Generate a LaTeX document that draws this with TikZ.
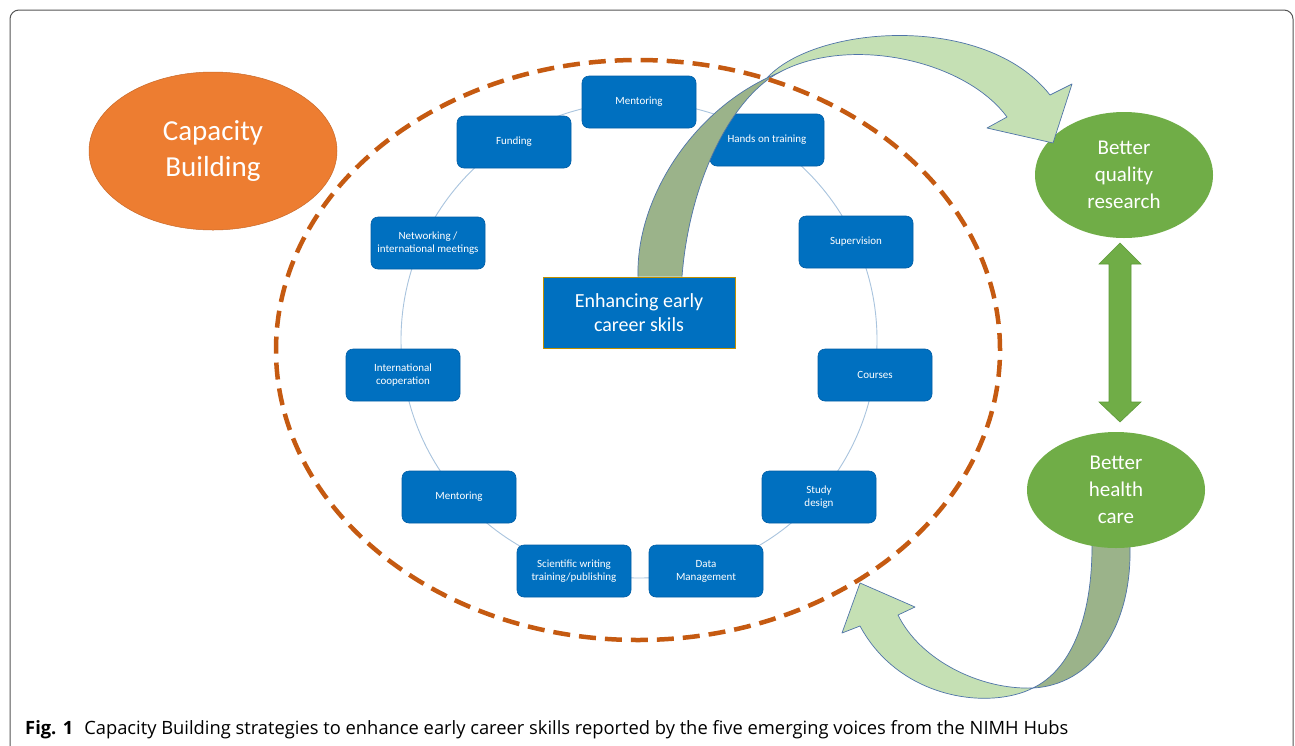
\documentclass[tikz,border=0pt]{standalone}
\usepackage{fontspec}
\usepackage{graphicx}
\setmainfont{Carlito}
\newfontfamily\capfont{Open Sans}
\usetikzlibrary{shapes.geometric}
\definecolor{boxblue}{HTML}{0070C0}
\definecolor{boxedge}{HTML}{005DA6}
\definecolor{orangefill}{HTML}{ED7D31}
\definecolor{dashorange}{HTML}{C55A11}
\definecolor{greenfill}{HTML}{70AD47}
\definecolor{greenedge}{HTML}{5E9A3A}
\definecolor{lightgreen}{HTML}{C5E0B4}
\definecolor{darkgreen}{HTML}{9BB38A}
\definecolor{arrowedge}{HTML}{4F74A8}
\definecolor{ringblue}{HTML}{A9C4DE}
\definecolor{centeredge}{HTML}{BF9000}
\definecolor{framegray}{HTML}{555555}
\begin{document}
\begin{tikzpicture}[x=1pt,y=-1pt,
  skillbox/.style={rectangle, rounded corners=7pt, fill=boxblue, draw=boxedge, line width=0.6pt,
    minimum width=114pt, minimum height=52pt, inner sep=2pt, text=white, align=center,
    font=\fontsize{11}{13}\selectfont},
  centerbox/.style={rectangle, fill=boxblue, draw=centeredge, line width=1pt,
    minimum width=192pt, minimum height=71pt, inner sep=2pt, text=white, align=center,
    font=\fontsize{20}{24}\selectfont},
  greenoval/.style={ellipse, fill=greenfill, draw=none, inner sep=0pt, text=white, align=center,
    font=\fontsize{21}{27}\selectfont},
  bigarrow/.style={draw=arrowedge, line width=0.7pt, line join=round},
  ring/.style={draw=ringblue, line width=0.9pt},
  dashring/.style={draw=dashorange, line width=4.5pt, dash pattern=on 17pt off 9pt}
]
\useasboundingbox (0,0) rectangle (1295,745);
\fill[white] (0,0) rectangle (1295,745);
% frame
\draw[framegray, line width=1pt, rounded corners=9pt] (10,770) -- (10,10) -- (1293,10) -- (1293,770);

% capacity building
\node[ellipse, fill=orangefill, draw=orangefill!85!black, line width=0.5pt, minimum width=248pt, minimum height=158pt,
  inner sep=0pt, text=white, align=center, font=\fontsize{29}{36}\selectfont] (cap) at (213,151) {Capacity\\Building};

% ring
\draw[ring] (639,340) circle (238pt);

% skill boxes
\node[skillbox] (m1) at (639,102) {Mentoring};
\node[skillbox] (hot) at (767,140) {Hands on training};
\node[skillbox] (sup) at (856,242) {Supervision};
\node[skillbox] (cou) at (875,375) {Courses};
\node[skillbox] (sd) at (819,497) {Study\\design};
\node[skillbox] (dm) at (706,571) {Data\\Management};
\node[skillbox] (sw) at (574,571) {Scientific writing\\training/publishing};
\node[skillbox] (m2) at (459,497) {Mentoring};
\node[skillbox] (ic) at (403,375) {International\\cooperation};
\node[skillbox] (net) at (428,243) {Networking /\\international meetings};
\node[skillbox] (fun) at (514,142) {Funding};

% center
\node[centerbox] (ctr) at (639,312.5) {Enhancing early\\career skils};

% outcome ovals
\node[greenoval, minimum width=178pt, minimum height=126pt] (bqr) at (1124,175) {Better\\quality\\research};

% curved arrow 1 (from centre box to better quality research)
\fill[darkgreen] (ctr.north -| 638,0) .. controls (636,200) and (690,115) .. (767,78)
  -- (780,72) .. controls (735,95) and (690,175) .. (ctr.north -| 682,0) -- cycle;
\draw[bigarrow] (ctr.north -| 638,0) .. controls (636,200) and (690,115) .. (767,78);
\draw[bigarrow] (780,72) .. controls (735,95) and (690,175) .. (ctr.north -| 682,0);
\filldraw[bigarrow, fill=lightgreen] (767,78) .. controls (815,25) and (985,12) .. (1050,95)
  -- (1072,84) -- (1053,143) -- (987,128) -- (1007,117)
  .. controls (965,60) and (850,35) .. (780,72) -- cycle;

% curved arrow 2 (from better health care back to the circle)
\filldraw[bigarrow, fill=darkgreen] (1092,540) -- (1092,546) .. controls (1092,620) and (1070,670) .. (1033,688)
  .. controls (1090,685) and (1132,630) .. (1130,546) -- (1130,540) -- cycle;
\filldraw[bigarrow, fill=lightgreen] (1033,688) .. controls (990,710) and (900,700) .. (860,626)
  -- (842,633) -- (860,583) -- (915,607) -- (898,615)
  .. controls (920,660) and (980,690) .. (1033,688) -- cycle;
\node[greenoval, minimum width=178pt, minimum height=116pt] (bhc) at (1116,490) {Better\\health\\care};

% double arrow between ovals
\filldraw[fill=greenfill, draw=greenedge, line width=0.6pt]
  (1120,243) -- (1141,264) -- (1131,264) -- (1131,402) -- (1141,402) -- (1120,422)
  -- (1099,402) -- (1109,402) -- (1109,264) -- (1099,264) -- cycle;

% dashed ellipse
\draw[dashring] (638,350) ellipse [x radius=362pt, y radius=290pt];

% caption
\node[anchor=base west, inner sep=0pt] (caption) at (25,734)
  {\resizebox{1043pt}{!}{\capfont\fontsize{16}{19}\selectfont\textbf{Fig. 1}\hspace{0.6em}Capacity Building strategies to enhance early career skills reported by the five emerging voices from the NIMH Hubs}};
\end{tikzpicture}
\end{document}
